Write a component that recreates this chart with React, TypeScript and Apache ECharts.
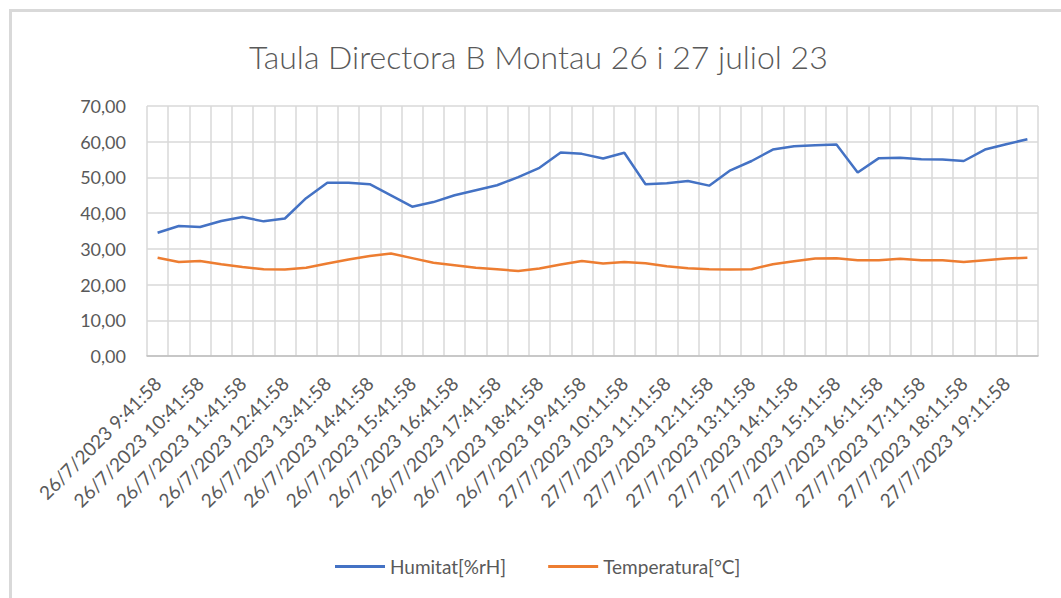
import React, { useEffect, useRef } from "react";
import * as echarts from "echarts";

const categories: string[] = [
  "26/7/2023 9:41:58", "26/7/2023 10:11:58", "26/7/2023 10:41:58", "26/7/2023 11:11:58",
  "26/7/2023 11:41:58", "26/7/2023 12:11:58", "26/7/2023 12:41:58", "26/7/2023 13:11:58",
  "26/7/2023 13:41:58", "26/7/2023 14:11:58", "26/7/2023 14:41:58", "26/7/2023 15:11:58",
  "26/7/2023 15:41:58", "26/7/2023 16:11:58", "26/7/2023 16:41:58", "26/7/2023 17:11:58",
  "26/7/2023 17:41:58", "26/7/2023 18:11:58", "26/7/2023 18:41:58", "26/7/2023 19:11:58",
  "26/7/2023 19:41:58", "27/7/2023 9:41:58", "27/7/2023 10:11:58", "27/7/2023 10:41:58",
  "27/7/2023 11:11:58", "27/7/2023 11:41:58", "27/7/2023 12:11:58", "27/7/2023 12:41:58",
  "27/7/2023 13:11:58", "27/7/2023 13:41:58", "27/7/2023 14:11:58", "27/7/2023 14:41:58",
  "27/7/2023 15:11:58", "27/7/2023 15:41:58", "27/7/2023 16:11:58", "27/7/2023 16:41:58",
  "27/7/2023 17:11:58", "27/7/2023 17:41:58", "27/7/2023 18:11:58", "27/7/2023 18:41:58",
  "27/7/2023 19:11:58", "27/7/2023 19:41:58",
];

const humitat: number[] = [
  34.5, 36.4, 36.1, 37.8, 38.9, 37.7, 38.5, 44.2, 48.5, 48.5, 48.1, 45.0,
  41.8, 43.1, 45.0, 46.4, 47.8, 50.1, 52.7, 57.0, 56.6, 55.3, 56.9, 48.1,
  48.4, 49.0, 47.7, 52.0, 54.6, 57.8, 58.7, 59.0, 59.2, 51.4, 55.4, 55.5,
  55.1, 55.0, 54.6, 57.8, 59.3, 60.7,
];

const temperatura: number[] = [
  27.5, 26.3, 26.6, 25.7, 24.9, 24.3, 24.2, 24.7, 25.9, 27.0, 28.0, 28.7,
  27.4, 26.1, 25.4, 24.7, 24.3, 23.8, 24.5, 25.6, 26.6, 25.9, 26.3, 26.0,
  25.1, 24.6, 24.3, 24.2, 24.3, 25.7, 26.5, 27.3, 27.4, 26.8, 26.8, 27.2,
  26.8, 26.8, 26.3, 26.8, 27.3, 27.5,
];

const titleText = "Taula Directora B Montau 26 i 27 juliol 23";
const seriesNames = ["Humitat[%rH]", "Temperatura[°C]"];

const FONT = "Lato";
const TEXT = "#595959";
const GRIDC = "#d9d9d9";

export default function App() {
  const ref = useRef<HTMLDivElement>(null);
  useEffect(() => {
    document.body.style.margin = "0";
    const chart = echarts.init(ref.current!, null, { renderer: "svg" });
    chart.setOption({
      animation: false,
      backgroundColor: "#ffffff",
      title: {
        text: titleText,
        left: 244,
        top: 35,
        textStyle: { fontFamily: FONT, fontSize: 32, fontWeight: 300, color: TEXT },
      },
      graphic: [
        {
          type: "rect",
          shape: { x: 10.5, y: 10.5, width: 1100, height: 650 },
          style: { fill: "none", stroke: GRIDC, lineWidth: 3 },
          silent: true,
        },
      ],
      legend: {
        data: seriesNames,
        left: 330,
        top: 552,
        icon: "rect",
        itemWidth: 50,
        itemHeight: 3,
        itemGap: 42,
        textStyle: { fontFamily: FONT, fontSize: 19, color: TEXT },
      },
      grid: { left: 147, right: 23, top: 106, bottom: 242, containLabel: false },
      xAxis: {
        type: "category",
        data: categories,
        boundaryGap: true,
        axisLine: { lineStyle: { color: "#bfbfbf", width: 1.5 } },
        axisTick: { show: false },
        axisLabel: {
          interval: 1,
          rotate: 45,
          fontFamily: FONT,
          fontSize: 19,
          color: TEXT,
          margin: 24,
        },
        splitLine: { show: true, interval: 0, lineStyle: { color: GRIDC, width: 1.5 } },
      },
      yAxis: {
        type: "value",
        min: 0,
        max: 70,
        interval: 10,
        axisLine: { show: false },
        axisTick: { show: false },
        axisLabel: {
          fontFamily: FONT,
          fontSize: 18,
          color: TEXT,
          margin: 21,
          formatter: (v: number) => v.toFixed(2).replace(".", ","),
        },
        splitLine: { lineStyle: { color: GRIDC, width: 1.5 } },
      },
      series: [
        {
          name: seriesNames[0],
          type: "line",
          data: humitat,
          symbol: "none",
          lineStyle: { color: "#4472C4", width: 2.5 },
          itemStyle: { color: "#4472C4" },
        },
        {
          name: seriesNames[1],
          type: "line",
          data: temperatura,
          symbol: "none",
          lineStyle: { color: "#ED7D31", width: 2.5 },
          itemStyle: { color: "#ED7D31" },
        },
      ],
    });
    return () => chart.dispose();
  }, []);
  return <div ref={ref} style={{ width: 1061, height: 598 }} />;
}
